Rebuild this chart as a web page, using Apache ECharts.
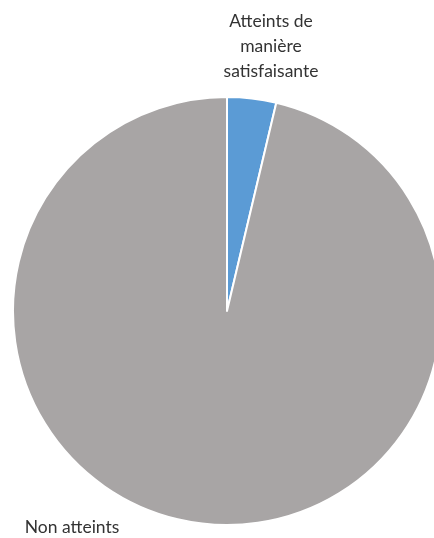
<!DOCTYPE html>
<html><head><meta charset="utf-8">
<script src="https://cdn.jsdelivr.net/npm/echarts@6/dist/echarts.min.js"></script>
<style>html,body{margin:0;padding:0;background:#fff}#c{width:434px;height:538px}</style>
</head><body><div id="c"></div>
<script>
const categories = ["Atteints de\nmanière\nsatisfaisante", "Non atteints"];
const values = [3.7, 96.3];
const colors = ["#5B9BD5", "#A8A5A5"];
const labelPos = [[271, 46], [72, 527]];

const chart = echarts.init(document.getElementById('c'), null, {renderer: 'canvas'});
chart.setOption({
  animation: false,
  backgroundColor: '#fff',
  series: [{
    type: 'pie',
    center: [227, 311],
    radius: [0, 214],
    startAngle: 90,
    clockwise: true,
    data: categories.map((n, i) => ({name: n, value: values[i], itemStyle: {color: colors[i]}})),
    itemStyle: {borderColor: '#fff', borderWidth: 2},
    label: {
      show: true, position: 'outside', formatter: '{b}',
      fontFamily: 'Lato', fontSize: 17.5, color: '#333333', lineHeight: 25, align: 'center'
    },
    labelLine: {show: false},
    labelLayout: function (p) {
      const pos = labelPos[p.dataIndex];
      return {x: pos[0], y: pos[1], align: 'center', verticalAlign: 'middle'};
    },
    emphasis: {disabled: true}
  }]
});
</script></body></html>
